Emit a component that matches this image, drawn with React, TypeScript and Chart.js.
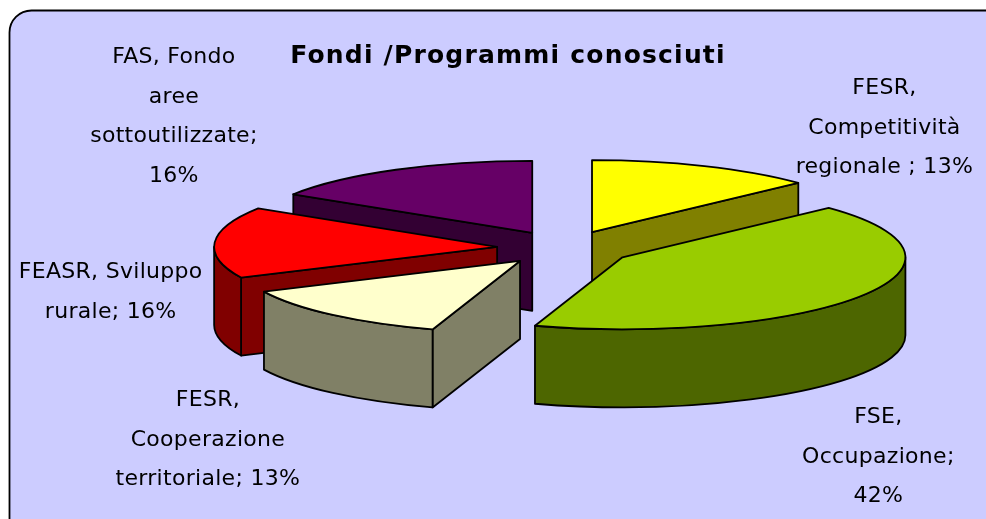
import React, { useEffect, useRef } from "react";
import { Chart, registerables } from "chart.js";

Chart.register(...registerables);

// ---- data ----
const categories = [
  "FESR, Competitività regionale",
  "FSE, Occupazione",
  "FESR, Cooperazione territoriale",
  "FEASR, Sviluppo rurale",
  "FAS, Fondo aree sottoutilizzate",
];
const values = [13, 42, 13, 16, 16];
const titleText = "Fondi /Programmi conosciuti";

// label lines (text broken as in the reference); the percentage comes from values
const labelLines = [
  ["FESR,", "Competitività", `regionale ; ${values[0]}%`],
  ["FSE,", "Occupazione;", `${values[1]}%`],
  ["FESR,", "Cooperazione", `territoriale; ${values[2]}%`],
  ["FEASR, Sviluppo", `rurale; ${values[3]}%`],
  ["FAS, Fondo", "aree", "sottoutilizzate;", `${values[4]}%`],
];

// ---- styles ----
const topColors = ["#FFFF00", "#99CC00", "#FFFFCC", "#FF0000", "#660066"];
const sideColors = ["#808000", "#4D6600", "#808066", "#800000", "#330033"];
const labelOffsets = [
  [180, -38],
  [17, 161],
  [-125, 125],
  [-104, 50],
  [-222, -53],
];
const TILT = 0.2544;
const DEPTH = 78;
const EXPLODE = 68;
const RADIUS = 283;
const FONT = '"DejaVu Sans", Verdana, sans-serif';

function sliceGeom(el: any) {
  const p = el.getProps(["x", "y", "startAngle", "endAngle", "outerRadius"], true);
  const mid = (p.startAngle + p.endAngle) / 2;
  const cx = p.x + Math.cos(mid) * EXPLODE;
  const cy = p.y + Math.sin(mid) * EXPLODE * TILT;
  return { cx, cy, s: p.startAngle, e: p.endAngle, R: p.outerRadius, mid };
}

const backgroundPlugin = {
  id: "bgBox",
  beforeDraw(chart: any) {
    const ctx = chart.ctx;
    ctx.save();
    const x = 9.5, y = 10.5, w = 1000, h = 530, r = 22;
    ctx.beginPath();
    ctx.moveTo(x + r, y);
    ctx.lineTo(x + w - r, y);
    ctx.arcTo(x + w, y, x + w, y + r, r);
    ctx.lineTo(x + w, y + h - r);
    ctx.arcTo(x + w, y + h, x + w - r, y + h, r);
    ctx.lineTo(x + r, y + h);
    ctx.arcTo(x, y + h, x, y + h - r, r);
    ctx.lineTo(x, y + r);
    ctx.arcTo(x, y, x + r, y, r);
    ctx.closePath();
    ctx.fillStyle = "#CCCCFF";
    ctx.fill();
    ctx.lineWidth = 1.8;
    ctx.strokeStyle = "#000";
    ctx.stroke();
    ctx.restore();
  },
};

const pie3dPlugin = {
  id: "pie3d",
  beforeDatasetsDraw(chart: any) {
    const ctx = chart.ctx;
    const meta = chart.getDatasetMeta(0);
    const slices = meta.data.map((el: any, i: number) => ({ i, ...sliceGeom(el) }));
    slices.sort((a: any, b: any) => Math.sin(a.mid) - Math.sin(b.mid));
    ctx.save();
    ctx.lineWidth = 1.8;
    ctx.strokeStyle = "#000";
    ctx.lineJoin = "round";
    for (const sl of slices) {
      const { cx, cy, s, e, R, i } = sl;
      const ry = R * TILT;
      const side = sideColors[i];
      const pt = (t: number) => [cx + R * Math.cos(t), cy + ry * Math.sin(t)];
      const wall = (t: number) => {
        const p = pt(t);
        ctx.beginPath();
        ctx.moveTo(cx, cy);
        ctx.lineTo(p[0], p[1]);
        ctx.lineTo(p[0], p[1] + DEPTH);
        ctx.lineTo(cx, cy + DEPTH);
        ctx.closePath();
        ctx.fillStyle = side;
        ctx.fill();
        ctx.stroke();
      };
      if (Math.cos(s) < -1e-6) wall(s);
      if (Math.cos(e) > 1e-6) wall(e);
      const a0 = Math.max(s, 0);
      const a1 = Math.min(e, Math.PI);
      if (a1 > a0) {
        ctx.beginPath();
        ctx.ellipse(cx, cy, R, ry, 0, a0, a1);
        ctx.ellipse(cx, cy + DEPTH, R, ry, 0, a1, a0, true);
        ctx.closePath();
        ctx.fillStyle = side;
        ctx.fill();
        ctx.stroke();
      }
      ctx.beginPath();
      ctx.moveTo(cx, cy);
      ctx.ellipse(cx, cy, R, ry, 0, s, e);
      ctx.closePath();
      ctx.fillStyle = topColors[i];
      ctx.fill();
      ctx.stroke();
    }
    ctx.restore();
    return false;
  },
  afterDraw(chart: any) {
    const ctx = chart.ctx;
    const meta = chart.getDatasetMeta(0);
    ctx.save();
    ctx.fillStyle = "#000";
    ctx.textAlign = "center";
    ctx.textBaseline = "middle";
    // title
    ctx.font = `bold 25px ${FONT}`;
    (ctx as any).letterSpacing = "1.2px";
    ctx.fillText(titleText, 508, 56);
    // labels
    ctx.font = `22px ${FONT}`;
    (ctx as any).letterSpacing = "0.3px";
    const lh = 39.5;
    meta.data.forEach((el: any, i: number) => {
      const g = sliceGeom(el);
      const ax = g.cx + g.R * Math.cos(g.mid);
      const ay = g.cy + g.R * TILT * Math.sin(g.mid);
      const lx = ax + labelOffsets[i][0];
      const ly = ay + labelOffsets[i][1];
      const lines = labelLines[i];
      lines.forEach((line, k) => {
        ctx.fillText(line, lx, ly + (k - (lines.length - 1) / 2) * lh);
      });
    });
    ctx.restore();
  },
};

export default function App() {
  const ref = useRef<HTMLCanvasElement | null>(null);
  useEffect(() => {
    if (!ref.current) return;
    const chart = new Chart(ref.current, {
      type: "pie",
      data: {
        labels: categories,
        datasets: [
          {
            data: values,
            backgroundColor: topColors,
            borderWidth: 0,
            radius: RADIUS,
          } as any,
        ],
      },
      options: {
        animation: false,
        responsive: false,
        maintainAspectRatio: false,
        layout: { padding: { left: 144, right: 0, top: 0, bottom: 23 } },
        plugins: {
          legend: { display: false },
          tooltip: { enabled: false },
          title: { display: false },
        },
      },
      plugins: [backgroundPlugin, pie3dPlugin],
    });
    return () => chart.destroy();
  }, []);
  return (
    <div style={{ position: "fixed", left: 0, top: 0, width: 986, height: 519, background: "#fff" }}>
      <canvas ref={ref} width={986} height={519} style={{ display: "block" }} />
    </div>
  );
}
